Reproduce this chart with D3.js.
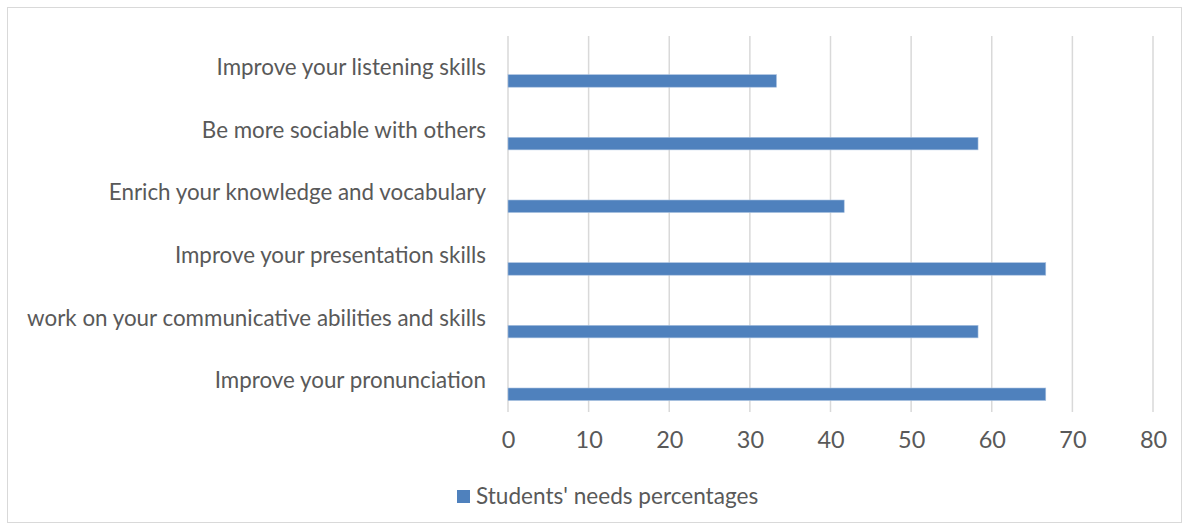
<!DOCTYPE html>
<html>
<head>
<meta charset="utf-8">
<script src="https://cdn.jsdelivr.net/npm/d3@7"></script>
<style>
  html, body { margin: 0; padding: 0; background: #fff; }
  svg { display: block; }
  text { font-family: Lato, "Open Sans", sans-serif; fill: #595959; }
</style>
</head>
<body>
<svg id="chart" width="1189" height="530"></svg>
<script>
const categories = [
  "Improve your listening skills",
  "Be more sociable with others",
  "Enrich your knowledge and vocabulary",
  "Improve your presentation skills",
  "work on your communicative abilities and skills",
  "Improve your pronunciation"
];
const values = [33.3, 58.3, 41.7, 66.7, 58.3, 66.7];
const tickValues = [0, 10, 20, 30, 40, 50, 60, 70, 80];
const seriesName = "Students' needs percentages";

const svg = d3.select("#chart");
const W = 1189, H = 530;

svg.append("rect")
  .attr("x", 7.5).attr("y", 7.5).attr("width", W - 15).attr("height", H - 15)
  .attr("fill", "#fff").attr("stroke", "#d9d9d9").attr("stroke-width", 1);

const x = d3.scaleLinear().domain([0, 80]).range([508, 1153]);
const y = d3.scaleBand().domain(categories).range([36, 412]).padding(0);
const bw = y.bandwidth();

// gridlines
svg.append("g").selectAll("line").data(tickValues).join("line")
  .attr("x1", d => x(d)).attr("x2", d => x(d))
  .attr("y1", 36).attr("y2", 412)
  .attr("stroke", "#d9d9d9").attr("stroke-width", 1.5);

// bars
svg.append("g").selectAll("rect").data(values).join("rect")
  .attr("x", x(0))
  .attr("y", (d, i) => y(categories[i]) + bw * 0.617)
  .attr("width", d => x(d) - x(0))
  .attr("height", bw * 0.2)
  .attr("fill", "#4f81bd")
  .attr("stroke", "#a9c1e0").attr("stroke-width", 0.6);

// fit font size to the reference width of the longest label
const probe = svg.append("text").attr("font-size", 20).text(categories[4]);
const w20 = probe.node().getComputedTextLength();
probe.remove();
const fs = 20 * 459 / w20;

// category labels
svg.append("g").selectAll("text").data(categories).join("text")
  .attr("x", 486)
  .attr("y", d => y(d) + bw / 2 + 2)
  .attr("text-anchor", "end")
  .attr("dominant-baseline", "middle")
  .attr("font-size", fs)
  .text(d => d);

// x axis tick labels
const xAxis = d3.axisBottom(x).tickValues(tickValues).tickSize(0).tickPadding(0);
const gx = svg.append("g").attr("transform", "translate(0,431)").call(xAxis);
gx.select(".domain").remove();
gx.selectAll("text")
  .attr("font-size", fs * 1.05)
  .attr("fill", "#595959")
  .attr("font-family", "Lato, 'Open Sans', sans-serif");

// legend
const lg = svg.append("g");
lg.append("rect").attr("x", 457).attr("y", 490).attr("width", 13).attr("height", 13).attr("fill", "#4f81bd");
lg.append("text").attr("x", 476).attr("y", 498).attr("dominant-baseline", "middle")
  .attr("font-size", fs * 1.01).text(seriesName);
</script>
</body>
</html>
